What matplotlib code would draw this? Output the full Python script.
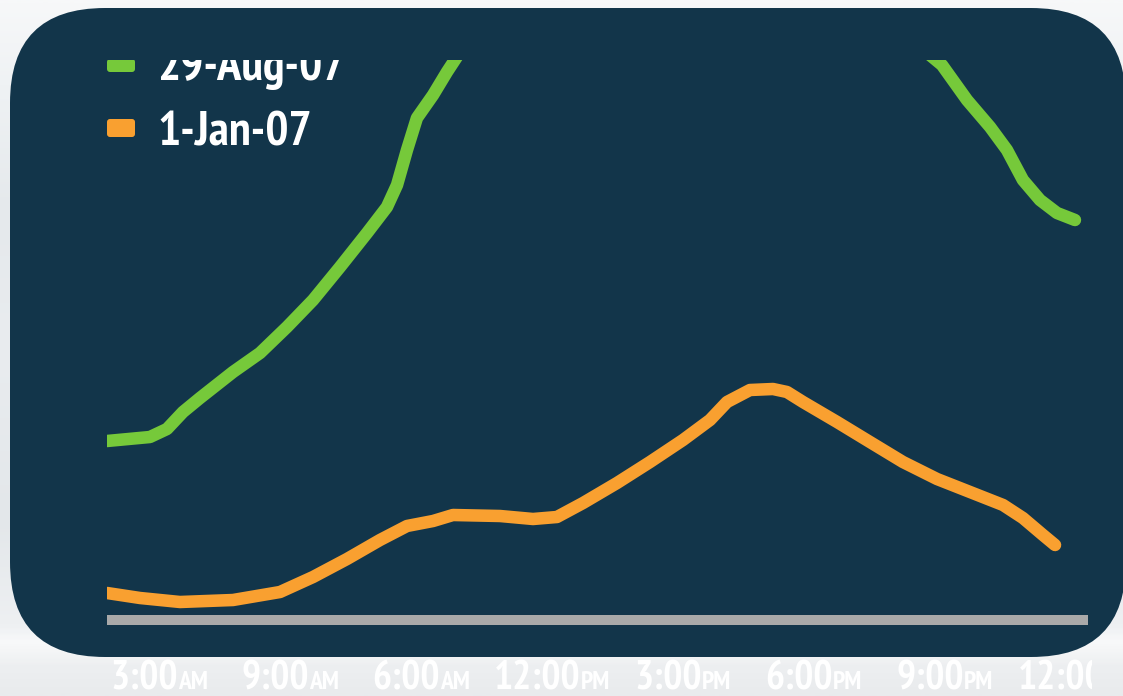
import matplotlib
matplotlib.use("Agg")
import matplotlib.pyplot as plt
import numpy as np
from matplotlib.patches import FancyBboxPatch, Rectangle
from matplotlib.colors import LinearSegmentedColormap
from matplotlib.transforms import Affine2D, Bbox, ScaledTranslation

# ---------------- data ----------------
tick_numbers = ["3:00", "9:00", "6:00", "12:00", "3:00", "6:00", "9:00", "12:00"]
tick_suffix = ["AM", "AM", "AM", "PM", "PM", "PM", "PM", "PM"]
tick_pos = [0, 1, 2, 3, 4, 5, 6, 7]

series_names = ["29-Aug-07", "1-Jan-07"]

green_x = [-0.397, -0.069, 0.061, 0.183, 0.313, 0.565, 0.771, 0.977, 1.176, 1.382,
           1.588, 1.740, 1.817, 1.893, 1.969, 2.092, 2.198, 2.298,
           2.756, 3.52, 4.28, 5.05, 5.66,
           5.885, 5.977, 6.168, 6.344, 6.473, 6.595, 6.725, 6.855, 6.992]
green_y = [35.8, 36.6, 38.2, 41.6, 44.4, 49.6, 53.4, 58.6, 64.0, 70.6,
           77.4, 82.6, 87.0, 94.0, 100.4, 105.0, 109.6, 113.6,
           125.0, 134.0, 136.0, 130.0, 119.0,
           113.0, 111.0, 104.0, 98.6, 94.0, 88.0, 84.0, 81.4, 80.0]

orange_x = [-0.397, -0.145, 0.160, 0.565, 0.924, 1.176, 1.435, 1.687, 1.893, 2.092,
            2.244, 2.603, 2.855, 3.038, 3.237, 3.496, 3.748, 4.000, 4.206, 4.336,
            4.511, 4.687, 4.794, 4.916, 5.176, 5.427, 5.679, 5.939, 6.191, 6.443,
            6.595, 6.748, 6.840]
orange_y = [5.4, 4.4, 3.6, 4.0, 5.6, 8.6, 12.2, 16.0, 18.8, 19.8,
            21.0, 20.8, 20.2, 20.6, 23.4, 27.4, 31.6, 36.0, 40.0, 43.6,
            46.0, 46.2, 45.6, 43.6, 39.6, 35.6, 31.6, 28.2, 25.6, 23.0,
            20.4, 17.0, 15.0]

# ---------------- style ----------------
W, H = 1123, 696
NAVY = "#12354a"
GREEN = "#76c93a"
ORANGE = "#f9a030"
GREY = "#a9a9a9"
FONT = ["PT Sans Narrow", "Roboto Condensed", "DejaVu Sans"]

fig = plt.figure(figsize=(W / 100, H / 100), dpi=100)

# pixel (top-left origin) -> display transform
pix = Affine2D().scale(1, -1).translate(0, H)

# background
bg = fig.add_axes([0, 0, 1, 1], zorder=0)
bg.set_xlim(0, W)
bg.set_ylim(H, 0)
bg.axis("off")
stops = [(0.0, "#f7f8f9"), (0.12, "#eff2f4"), (0.30, "#e5e9ec"), (0.50, "#e9ecef"),
         (0.75, "#e3e7ea"), (0.90, "#eef0f2"), (0.925, "#f8f9fa"), (0.96, "#edeff1"),
         (1.0, "#e9ebed")]
cmap = LinearSegmentedColormap.from_list("bg", stops)
grad = np.linspace(0, 1, 400).reshape(-1, 1)
bg.imshow(grad, cmap=cmap, aspect="auto", extent=[0, W, H, 0], zorder=0)
R = 95
panel = FancyBboxPatch((10 + R, 8 + R), 1126 - 10 - 2 * R, 657 - 8 - 2 * R,
                       boxstyle=f"round,pad={R}", facecolor=NAVY, edgecolor="none", zorder=1)
bg.add_patch(panel)

# main axes
left_px, right_px, top_px, bot_px = 107, 1088, 60, 630
ax = fig.add_axes([left_px / W, (H - bot_px) / H, (right_px - left_px) / W, (bot_px - top_px) / H],
                  zorder=2)
ax.patch.set_alpha(0)
for s in ax.spines.values():
    s.set_visible(False)
ax.set_xlim((left_px - 159) / 131, (right_px - 159) / 131)
ax.set_ylim((620 - bot_px) / 5, (620 - top_px) / 5)
ax.set_xticks([])
ax.set_yticks([])

ax.axhline(0, color=GREY, lw=7.2, solid_capstyle="butt", zorder=1)
ax.plot(green_x, green_y, color=GREEN, lw=9.0, solid_capstyle="round",
        solid_joinstyle="round", zorder=3)
ax.plot(orange_x, orange_y, color=ORANGE, lw=9.0, solid_capstyle="round",
        solid_joinstyle="round", zorder=3)

# legend entries
leg_rows = [(GREEN, 59, 72, 80), (ORANGE, 119, 137, 145)]
for name, (col, y0, y1, base) in zip(series_names, leg_rows):
    p = FancyBboxPatch((107, y0), 28, y1 - y0, boxstyle="round,pad=0,rounding_size=3",
                       facecolor=col, edgecolor="none", transform=pix, zorder=4)
    ax.add_patch(p)
    ax.text(157, base, name, transform=pix, color="white", fontsize=35,
            fontweight="bold", family=FONT, ha="left", va="baseline", zorder=4)

# cover above the plot area (legend is cut by the panel's plot region, as in the reference)
ax.add_patch(Rectangle((105, 9), 920, top_px - 9, transform=pix, facecolor=NAVY,
                       edgecolor="none", clip_on=False, zorder=5))

# tick labels: large number + small-caps suffix, clipped at the right
fig.canvas.draw()
renderer = fig.canvas.get_renderer()
clipbox = Bbox([[0, 0], [1092, H]])
for pos, num, suf in zip(tick_pos, tick_numbers, tick_suffix):
    xpix = 159 + 131 * pos
    tn = ax.text(xpix, 689, num, transform=pix, color="white", fontsize=28.8,
                 fontweight="bold", family=FONT, ha="right", va="baseline")
    ts = ax.text(xpix, 689, suf, transform=pix, color="white", fontsize=18.5,
                 fontweight="bold", family=FONT, ha="left", va="baseline")
    wn = tn.get_window_extent(renderer).width
    ws = ts.get_window_extent(renderer).width
    shift = (wn - ws) / 2
    off = ScaledTranslation(shift / 100, 0, fig.dpi_scale_trans)
    for t in (tn, ts):
        t.set_transform(pix + off)
        t.set_clip_on(True)
        t.set_clip_box(clipbox)

fig.savefig("out.png", dpi=100)
